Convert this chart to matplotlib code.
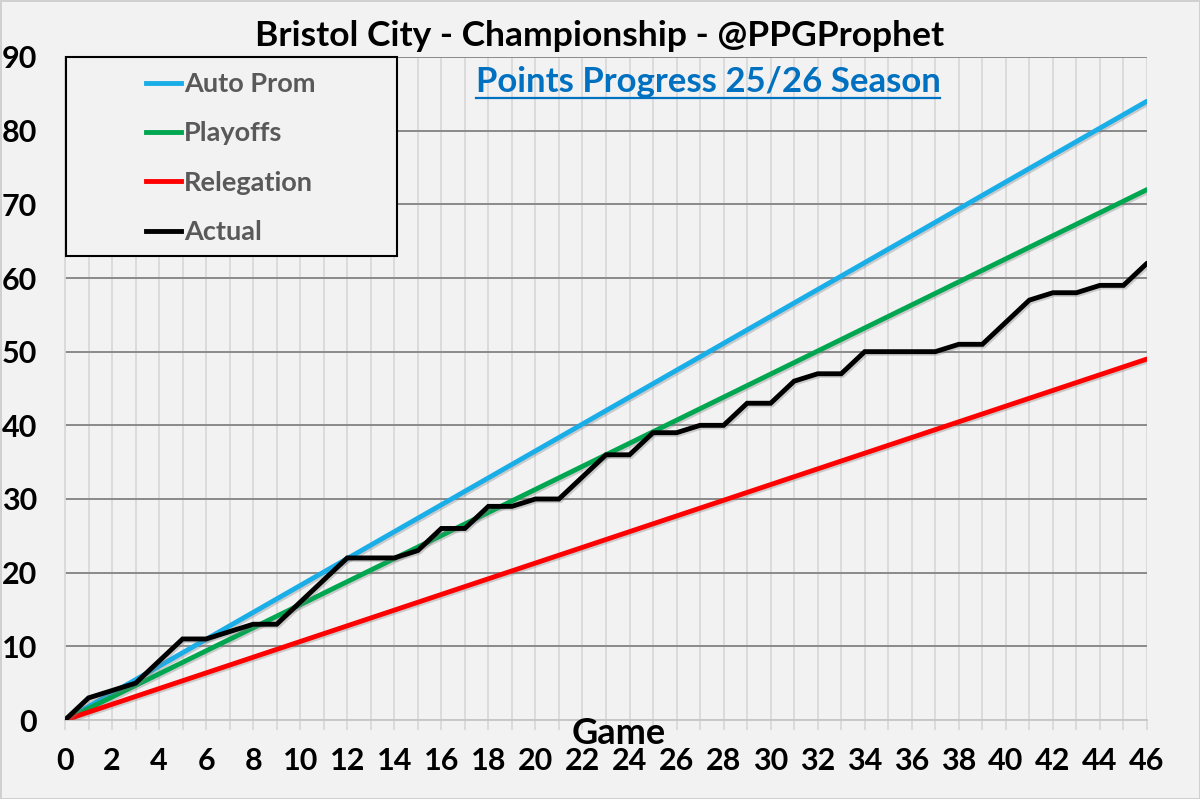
import matplotlib
matplotlib.use("Agg")
import matplotlib.pyplot as plt
import matplotlib.patheffects as pe
from matplotlib.lines import Line2D
from matplotlib.patches import Rectangle

plt.rcParams['font.family'] = ['Lato', 'DejaVu Sans']

# ---- data ----
games = list(range(0, 47))
actual = [0, 3, 4, 5, 8, 11, 11, 12, 13, 13, 16, 19, 22, 22, 22, 23, 26, 26, 29, 29,
          30, 30, 33, 36, 36, 39, 39, 40, 40, 43, 43, 46, 47, 47, 50, 50, 50, 50, 51, 51,
          54, 57, 58, 58, 59, 59, 62]
target_games = [0, 46]
auto_prom = [0, 84]
playoffs = [0, 72]
relegation = [0, 49]
series_names = ["Auto Prom", "Playoffs", "Relegation", "Actual"]
x_ticks = list(range(0, 47, 2))
y_ticks = list(range(0, 91, 10))

title = "Bristol City - Championship - @PPGProphet"
subtitle = "Points Progress 25/26 Season"

# ---- styles ----
BG = "#f2f2f2"
colors = ["#1aaee8", "#00a650", "#ff0000", "#000000"]
W, H = 1200, 799

fig = plt.figure(figsize=(12, 7.99), dpi=100, facecolor=BG)
fig.patch.set_edgecolor("#d0d0d0")
fig.patch.set_linewidth(2)
ax = fig.add_axes([65 / W, 1 - 720 / H, (1147 - 65) / W, (720 - 57) / H])
ax.set_facecolor(BG)

shadow = [pe.SimpleLineShadow(offset=(1.2, -1.2), shadow_color="#808080", alpha=0.35), pe.Normal()]
lw = 3.5
ax.plot(target_games, auto_prom, color=colors[0], lw=lw, path_effects=shadow, zorder=3, solid_capstyle='round')
ax.plot(target_games, playoffs, color=colors[1], lw=lw, path_effects=shadow, zorder=3, solid_capstyle='round')
ax.plot(target_games, relegation, color=colors[2], lw=lw, path_effects=shadow, zorder=3, solid_capstyle='round')
ax.plot(games, actual, color=colors[3], lw=lw, path_effects=shadow, zorder=4, solid_capstyle='round', solid_joinstyle='miter')

ax.set_xlim(0, 46)
ax.set_ylim(0, 90)
ax.set_xticks(x_ticks)
ax.set_xticks(games, minor=True)
ax.set_yticks(y_ticks)
ax.grid(which='minor', axis='x', color="#d9d9d9", lw=1.3, zorder=0)
ax.grid(which='major', axis='x', color="#d9d9d9", lw=1.3, zorder=0)
ax.grid(which='major', axis='y', color="#8a8a8a", lw=1.4, zorder=1)
ax.set_axisbelow(True)

for s in ['top', 'right']:
    ax.spines[s].set_visible(False)
ax.spines['left'].set_color("#d9d9d9")
ax.spines['left'].set_linewidth(1.3)
ax.spines['bottom'].set_color("#c8c8c8")
ax.spines['bottom'].set_linewidth(1.4)

ax.tick_params(axis='x', which='both', length=7.2, width=1.3, color="#d9d9d9",
               pad=12, labelsize=22, labelcolor='black')
ax.tick_params(axis='y', which='both', length=0, pad=20, labelsize=22, labelcolor='black')
for lab in ax.get_xticklabels() + ax.get_yticklabels():
    lab.set_fontweight('bold')

fig.text(619 / W, 1 - 733 / H, "Game", ha='center', va='center', fontsize=26,
         fontweight='bold', color='black')

fig.text(600 / W, 1 - 36 / H, title, ha='center', va='center', fontsize=25.5,
         fontweight='bold', color='black')
sub = fig.text(708 / W, 1 - 82 / H, subtitle, ha='center', va='center', fontsize=25,
               fontweight='bold', color="#0070c0")

# legend box
box = Rectangle((66 / W, 1 - 256 / H), (397 - 66) / W, (256 - 57) / H,
                transform=fig.transFigure, facecolor=BG, edgecolor='black', lw=1.5, zorder=2)
fig.patches.append(box)
handles = [Line2D([], [], color=c, lw=3.5) for c in colors]
leg = fig.legend(handles, series_names, loc='upper left',
                 bbox_to_anchor=(146 / W, 1 - 72 / H), bbox_transform=fig.transFigure,
                 frameon=False, handlelength=1.3, handletextpad=0.1,
                 labelspacing=0.94, borderpad=0, borderaxespad=0,
                 prop={'weight': 'bold', 'size': 19.5})
leg.set_zorder(5)
for t in leg.get_texts():
    t.set_color("#595959")

# underline for subtitle
fig.canvas.draw()
bb = sub.get_window_extent()
uy = 1 - 98 / H
fig.add_artist(Line2D([bb.x0 / W, bb.x1 / W], [uy, uy], transform=fig.transFigure,
                      color="#0070c0", lw=1.6))

fig.savefig("out.png", dpi=100, facecolor=BG, edgecolor=fig.patch.get_edgecolor())
